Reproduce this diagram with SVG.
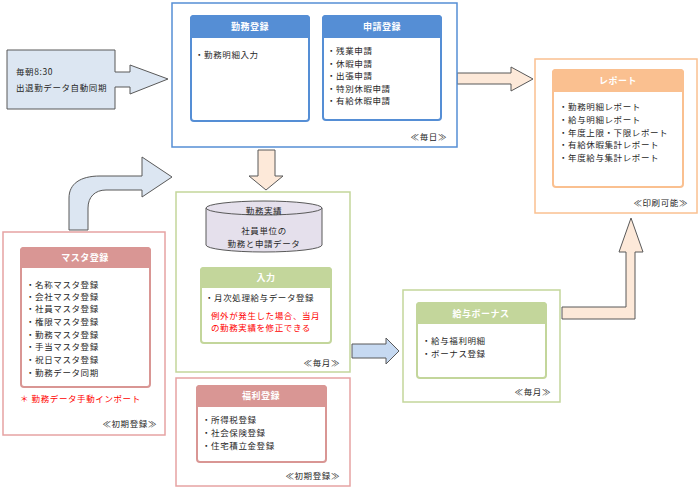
<svg xmlns="http://www.w3.org/2000/svg" width="700" height="488" viewBox="0 0 700 488">
<style>
text{font-family:"Noto Sans CJK JP","Noto Sans CJK SC",sans-serif;font-size:8.5px;letter-spacing:0.6px;fill:#262626}
.h{fill:#fff;font-weight:bold;text-anchor:middle;font-size:9px;letter-spacing:0.5px}
.r{fill:#ff0000}
.e{text-anchor:end}
.m{text-anchor:middle}
.ob{fill:#fff;stroke:#558ed5;stroke-width:1.5}
.og{fill:#fff;stroke:#c3d69b;stroke-width:1.5}
.op{fill:#fff;stroke:#e6a3a3;stroke-width:1.5}
.oo{fill:#fff;stroke:#fac090;stroke-width:1.5}
.bb{fill:#fff;stroke:#558ed5;stroke-width:2}
.bg{fill:#fff;stroke:#c3d69b;stroke-width:2}
.bp{fill:#fff;stroke:#d99694;stroke-width:2}
.bo{fill:#fff;stroke:#fac090;stroke-width:2}
.arrB{fill:#dce6f2;stroke:#595959;stroke-width:1}
.arrB2{fill:#c6d9f1;stroke:#595959;stroke-width:1}
.arrP{fill:#fde9d9;stroke:#595959;stroke-width:1}
</style>

<g id="connectors">
  <path class="arrB" d="M7,50 L115,50 L115,72 L130,72 L130,65 L168,79 L130,94 L130,87 L115,87 L115,109 L7,109 Z"/>
  <path class="arrP" d="M457,73 L511,73 L511,67 L533,79 L511,91 L511,84 L457,84 Z"/>
  <path class="arrP" d="M258,150 L275,150 L275,176 L283,176 L266,190 L249,176 L258,176 Z"/>
  <path class="arrB" d="M69,230 L69,198 C69,184 80,176 100,176 L142,176 L142,157 L172,177 L142,197 L142,190 L106,190 C95,190 88,197 88,208 L88,230 Z"/>
  <path class="arrB2" d="M352,344 L386,344 L386,338 L399,351 L386,364 L386,358 L352,358 Z"/>
  <path class="arrP" d="M562,307 L626,307 L626,252 L619,252 L631,218 L643,252 L635,252 L635,319 L562,319 Z"/>
</g>

<g id="sync">
  <text x="16" y="75">毎朝8:30</text>
  <text x="16" y="91">出退勤データ自動同期</text>
</g>

<g id="daily">
  <rect class="ob" x="172" y="3" width="285" height="144"/>
  <text x="447" y="140" class="e">≪毎日≫</text>
</g>
<g id="kinmu-touroku">
  <rect class="bb" x="191" y="16" width="118" height="105" rx="3"/>
  <path d="M190,38 L190,19 Q190,15 194,15 L306,15 Q310,15 310,19 L310,38 Z" fill="#558ed5"/>
  <text x="250" y="30" class="h">勤務登録</text>
  <text x="195" y="58">・勤務明細入力</text>
</g>
<g id="shinsei-touroku">
  <rect class="bb" x="323" y="16" width="118" height="104" rx="3"/>
  <path d="M322,38 L322,19 Q322,15 326,15 L438,15 Q442,15 442,19 L442,38 Z" fill="#558ed5"/>
  <text x="382" y="30" class="h">申請登録</text>
  <text x="327" y="54">・残業申請</text>
  <text x="327" y="67">・休暇申請</text>
  <text x="327" y="79">・出張申請</text>
  <text x="327" y="92">・特別休暇申請</text>
  <text x="327" y="104">・有給休暇申請</text>
</g>

<g id="report">
  <rect class="oo" x="535" y="59" width="162" height="154"/>
  <rect class="bo" x="553" y="70" width="130" height="117" rx="3"/>
  <path d="M552,92 L552,73 Q552,69 556,69 L680,69 Q684,69 684,73 L684,92 Z" fill="#fac090"/>
  <text x="618" y="84" class="h">レポート</text>
  <text x="559" y="110">・勤務明細レポート</text>
  <text x="559" y="123">・給与明細レポート</text>
  <text x="559" y="136">・年度上限・下限レポート</text>
  <text x="559" y="148">・有給休暇集計レポート</text>
  <text x="559" y="161">・年度給与集計レポート</text>
  <text x="688" y="206" class="e">≪印刷可能≫</text>
</g>

<g id="monthly">
  <rect class="og" x="176" y="192" width="174" height="180"/>
  <text x="340" y="366" class="e">≪毎月≫</text>
</g>
<g id="kinmu-jisseki">
  <path d="M206,208 L206,245 A58,7 0 0 0 322,245 L322,208" fill="#e5e0ec" stroke="#595959" stroke-width="1"/>
  <ellipse cx="264" cy="208" rx="58" ry="7" fill="#e5e0ec" stroke="#595959" stroke-width="1"/>
  <text x="264" y="214" class="m">勤務実績</text>
  <text x="264" y="234" class="m">社員単位の</text>
  <text x="264" y="247" class="m">勤務と申請データ</text>
</g>
<g id="nyuryoku">
  <rect class="bg" x="201" y="268" width="130" height="75" rx="3"/>
  <path d="M200,288 L200,271 Q200,267 204,267 L328,267 Q332,267 332,271 L332,288 Z" fill="#c3d69b"/>
  <text x="266" y="281" class="h">入力</text>
  <text x="205" y="301">・月次処理給与データ登録</text>
  <text x="211" y="319" class="r">例外が発生した場合、当月</text>
  <text x="211" y="331" class="r">の勤務実績を修正できる</text>
</g>

<g id="master">
  <rect class="op" x="3" y="232" width="162" height="203"/>
  <rect class="bp" x="21" y="248" width="129" height="139" rx="3"/>
  <path d="M20,268 L20,251 Q20,247 24,247 L147,247 Q151,247 151,251 L151,268 Z" fill="#d99694"/>
  <text x="85" y="261" class="h">マスタ登録</text>
  <text x="26" y="288">・名称マスタ登録</text>
  <text x="26" y="300">・会社マスタ登録</text>
  <text x="26" y="312">・社員マスタ登録</text>
  <text x="26" y="325">・権限マスタ登録</text>
  <text x="26" y="338">・勤務マスタ登録</text>
  <text x="26" y="350">・手当マスタ登録</text>
  <text x="26" y="363">・祝日マスタ登録</text>
  <text x="26" y="376">・勤務データ同期</text>
  <text x="20" y="402" class="r">＊ 勤務データ手動インポート</text>
  <text x="157" y="427" class="e">≪初期登録≫</text>
</g>

<g id="fukuri">
  <rect class="op" x="176" y="378" width="174" height="108"/>
  <rect class="bp" x="197" y="386" width="129" height="76" rx="3"/>
  <path d="M196,407 L196,389 Q196,385 200,385 L323,385 Q327,385 327,389 L327,407 Z" fill="#d99694"/>
  <text x="261" y="399" class="h">福利登録</text>
  <text x="202" y="423">・所得税登録</text>
  <text x="202" y="436">・社会保険登録</text>
  <text x="202" y="449">・住宅積立金登録</text>
  <text x="340" y="479" class="e">≪初期登録≫</text>
</g>

<g id="kyuyo-bonus">
  <rect class="og" x="403" y="290" width="157" height="112"/>
  <rect class="bg" x="417" y="303" width="129" height="75" rx="3"/>
  <path d="M416,324 L416,306 Q416,302 420,302 L543,302 Q547,302 547,306 L547,324 Z" fill="#c3d69b"/>
  <text x="481" y="317" class="h">給与ボーナス</text>
  <text x="422" y="344">・給与福利明細</text>
  <text x="422" y="357">・ボーナス登録</text>
  <text x="551" y="395" class="e">≪毎月≫</text>
</g>
</svg>
